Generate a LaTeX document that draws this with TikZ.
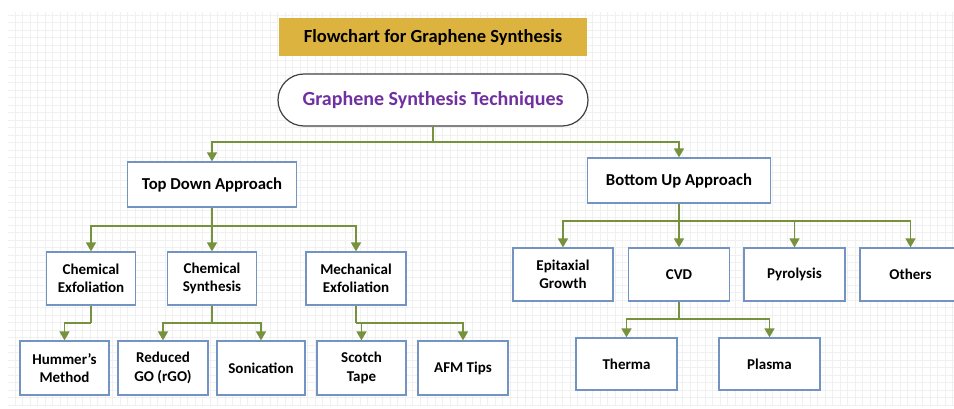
\documentclass[tikz,border=0pt]{standalone}
\usepackage{fontspec}
\setmainfont{Carlito}
\usetikzlibrary{arrows.meta,positioning}
\definecolor{boxblue}{HTML}{7393C2}
\definecolor{arrowgreen}{HTML}{76923C}
\definecolor{titlegold}{HTML}{DDB340}
\definecolor{techpurple}{HTML}{7030A0}
\tikzstyle{line} = [arrowgreen,line width=1.5pt]
\tikzstyle{line>} = [line,-{Triangle[length=9pt,width=10pt]}]
\tikzstyle{box} = [draw=boxblue,line width=1.2pt,fill=white,align=center,inner sep=0pt,font=\fontsize{15}{18.3}\selectfont\bfseries]
\tikzstyle{big box} = [box,minimum height=45pt,font=\fontsize{16.7}{19}\selectfont\bfseries]
\tikzstyle{grid line} = [black!6,line width=0.6pt]

\begin{document}
\begin{tikzpicture}[x=1pt,y=-1pt]
        \useasboundingbox (0,0) rectangle (954,409);
        \clip (0,0) rectangle (954,409);
        % draw background grid
        \draw[grid line,step=7.5pt] (8,405) grid (954,12);

        % draw title and root
        \node[fill=titlegold,minimum width=308pt,minimum height=38pt,font=\fontsize{18.5}{21}\selectfont\bfseries] (title) at (433,37) {Flowchart for Graphene Synthesis};
        \node[draw=black!75,line width=1.2pt,fill=white,rounded corners=26pt,minimum width=310pt,minimum height=52pt,text=techpurple,font=\fontsize{20}{23}\selectfont\bfseries] (tech) at (433,100) {Graphene Synthesis Techniques};

        % draw approaches
        \node[big box,minimum width=169pt] (top) at (212,184.5) {Top Down Approach};
        \node[big box,minimum width=183pt] (bottom) at (679,180.5) {Bottom Up Approach};

        % draw top down methods
        \node[box,minimum width=89pt,minimum height=53pt] (chemexf) at (91,278.5) {Chemical\\Exfoliation};
        \node[box,minimum width=89pt,minimum height=53pt] (chemsyn) at (212,278.5) {Chemical\\Synthesis};
        \node[box,minimum width=100pt,minimum height=53pt] (mechexf) at (356,278.5) {Mechanical\\Exfoliation};
        \node[box,minimum width=89pt,minimum height=54pt] (hummer) at (64.5,368) {Hummer's\\Method};
        \node[box,minimum width=90pt,minimum height=54pt] (rgo) at (163,368) {Reduced\\GO (rGO)};
        \node[box,minimum width=88pt,minimum height=54pt] (sonic) at (261,368) {Sonication};
        \node[box,minimum width=89pt,minimum height=54pt] (scotch) at (361.5,368) {Scotch\\Tape};
        \node[box,minimum width=90pt,minimum height=54pt] (afm) at (463,368) {AFM Tips};

        % draw bottom up methods
        \node[box,minimum width=100pt,minimum height=53pt] (epi) at (563,274.5) {Epitaxial\\Growth};
        \node[box,minimum width=101pt,minimum height=53pt] (cvd) at (679,274.5) {CVD};
        \node[box,minimum width=101pt,minimum height=53pt] (pyro) at (794.5,274.5) {Pyrolysis};
        \node[box,minimum width=101pt,minimum height=53pt] (others) at (910.5,274.5) {Others};
        \node[box,minimum width=101pt,minimum height=52pt] (therma) at (626.5,364) {Therma};
        \node[box,minimum width=101pt,minimum height=52pt] (plasma) at (769.5,364) {Plasma};

        % draw connectors
        \coordinate (tech bus) at (433,142);
        \coordinate (td bus) at (212,226);
        \coordinate (bu bus) at (679,221);
        \coordinate (ce bus) at (91,323);
        \coordinate (cs bus) at (212,323);
        \coordinate (me bus) at (356,323);
        \coordinate (cvd bus) at (679,319);
        \draw[line] (tech.south) -- (tech bus);
        \foreach \n in {top,bottom} {
        	\draw[line>] (tech bus) -| (\n.north);
        }
        \draw[line] (top.south) -- (td bus);
        \foreach \n in {chemexf,chemsyn,mechexf} {
        	\draw[line>] (td bus) -| (\n.north);
        }
        \draw[line] (bottom.south) -- (bu bus);
        \foreach \n in {epi,cvd,pyro,others} {
        	\draw[line>] (bu bus) -| (\n.north);
        }
        \draw[line] (chemexf.south) -- (ce bus);
        \draw[line>] (ce bus) -| (hummer.north);
        \draw[line] (chemsyn.south) -- (cs bus);
        \foreach \n in {rgo,sonic} {
        	\draw[line>] (cs bus) -| (\n.north);
        }
        \draw[line] (mechexf.south) -- (me bus);
        \foreach \n in {scotch,afm} {
        	\draw[line>] (me bus) -| (\n.north);
        }
        \draw[line] (cvd.south) -- (cvd bus);
        \foreach \n in {therma,plasma} {
        	\draw[line>] (cvd bus) -| (\n.north);
        }
    \end{tikzpicture}
\end{document}
